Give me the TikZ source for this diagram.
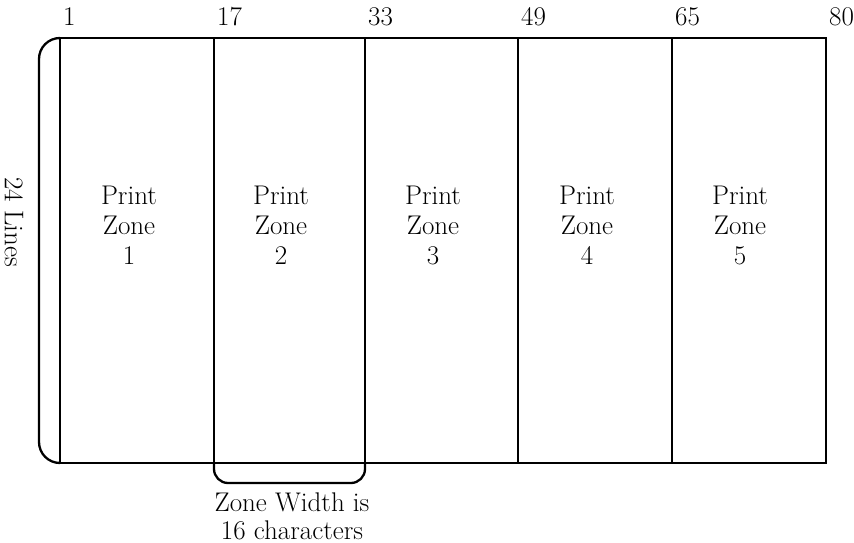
\documentclass[tikz,border=0pt]{standalone}
\usepackage{fontspec}
\usepackage{tikz}
\usetikzlibrary{positioning}

\begin{document}
\begin{tikzpicture}[x=1pt, y=-1pt, line width=2.3pt,
    zone/.style={align=center, font=\fontsize{27}{30}\selectfont},
    colnum/.style={anchor=base west, inner sep=0pt, font=\fontsize{27}{30}\selectfont}]
  \useasboundingbox (0,0) rectangle (854,543);
  % column edges, top and bottom
  \coordinate (top1) at (60,38);  \coordinate (bot1) at (60,463);
  \coordinate (top2) at (214,38); \coordinate (bot2) at (214,463);
  \coordinate (top3) at (365,38); \coordinate (bot3) at (365,463);
  \coordinate (top4) at (518,38); \coordinate (bot4) at (518,463);
  \coordinate (top5) at (672,38); \coordinate (bot5) at (672,463);
  \coordinate (top6) at (826,38); \coordinate (bot6) at (826,463);
  \draw (top1) rectangle (bot6);
  \foreach \i in {2,...,5} \draw (top\i) -- (bot\i);
  % column numbers
  \foreach \i/\t in {1/1,2/17,3/33,4/49,5/65,6/80}
    \node[colnum] (num\i) at ([xshift=2pt, yshift=12pt]top\i) {\t};
  % zones
  \node[zone] (zone1) at (129,225) {Print\\Zone\\1};
  \node[zone] (zone2) at (281,225) {Print\\Zone\\2};
  \node[zone] (zone3) at (433,225) {Print\\Zone\\3};
  \node[zone] (zone4) at (587,225) {Print\\Zone\\4};
  \node[zone] (zone5) at (740,225) {Print\\Zone\\5};
  % brackets
  \draw[rounded corners=21pt] (top1) -- (39,38) -- (39,463) -- (bot1);
  \node[zone, rotate=-90] (lines) at (14,222) {24 Lines};
  \draw[rounded corners=14pt] (bot2) -- (214,483) -- (365,483) -- (bot3);
  \node[zone, inner sep=0pt, font=\fontsize{27}{28}\selectfont] (width) at (292,516) {Zone Width is\\16 characters};
\end{tikzpicture}
\end{document}
